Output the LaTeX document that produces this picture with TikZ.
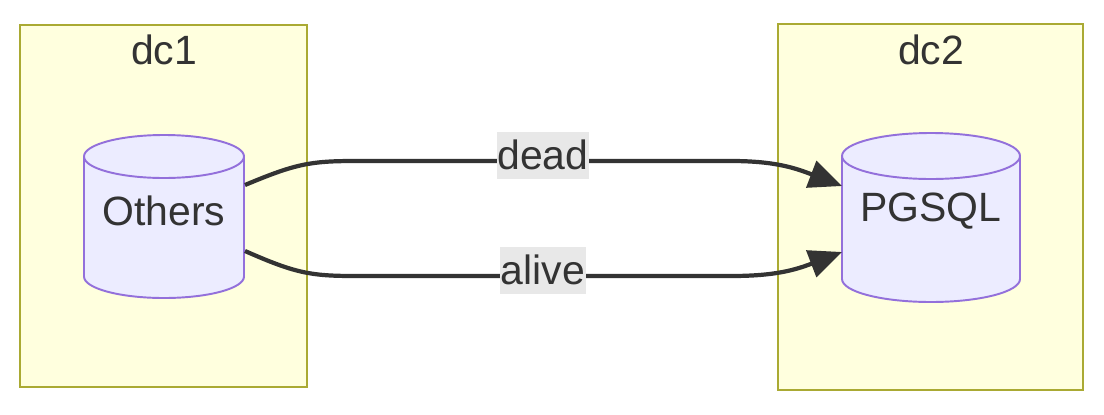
\documentclass[tikz,border=0pt]{standalone}
\usepackage{fontspec}
\setmainfont{Liberation Sans}
\usetikzlibrary{arrows.meta}

\definecolor{clusterfill}{HTML}{FFFFDE}
\definecolor{clusterline}{HTML}{AAAA33}
\definecolor{dbfill}{HTML}{ECECFF}
\definecolor{dbline}{HTML}{9370DB}
\definecolor{ink}{HTML}{333333}
\definecolor{lblfill}{HTML}{E8E8E8}

\begin{document}
\begin{tikzpicture}[x = 0.02cm, y = 0.02cm,
        every node/.style = {text = ink, font = \fontsize{23.3}{27}\selectfont},
        cluster/.style = {fill = clusterfill, draw = clusterline, line width = 1.1pt},
        db/.style = {fill = dbfill, draw = dbline, line width = 1.1pt},
        link/.style = {draw = ink, line width = 2.4pt,
            -{Triangle[length = 0.66cm, width = 0.56cm]}},
        lbl/.style = {fill = lblfill, inner sep = 0.5pt, minimum height = 0.94cm,
            yshift = 0.12cm}
    ]
        \useasboundingbox (0, 0) rectangle (1104, 414);

        % Subgraph boxes.
        \draw[cluster] (20, 27) rectangle (307, 389);
        \draw[cluster] (778, 24) rectangle (1083, 390);
        \node (dc1) at (164, 364) {dc1};
        \node (dc2) at (931, 364) {dc2};

        % First database, Others.
        \path[db] (84, 257.5) -- (84, 137.5)
            arc[start angle = 180, end angle = 360, x radius = 80, y radius = 21.5]
            -- (244, 257.5)
            arc[start angle = 0, end angle = 180, x radius = 80, y radius = 21.5];
        \draw[db, fill = none] (84, 257.5)
            arc[start angle = 180, end angle = 360, x radius = 80, y radius = 21.5];
        \node (others) at (164, 203) {Others};

        % Second database, PGSQL.
        \path[db] (842, 258) -- (842, 135)
            arc[start angle = 180, end angle = 360, x radius = 89, y radius = 23]
            -- (1020, 258)
            arc[start angle = 0, end angle = 180, x radius = 89, y radius = 23];
        \draw[db, fill = none] (842, 258)
            arc[start angle = 180, end angle = 360, x radius = 89, y radius = 23];
        \node (pgsql) at (931, 203) {PGSQL};

        % Ends of the two links.
        \coordinate (others-up) at (245, 229);
        \coordinate (others-down) at (245, 163);
        \coordinate (pgsql-up) at (842, 228);
        \coordinate (pgsql-down) at (842, 162);

        \draw[link] (others-up) .. controls (295, 250) and (310, 253) .. (355, 253)
            -- node[lbl] (dead) {dead} (731, 253)
            .. controls (775, 253) and (795, 246) .. (pgsql-up);
        \draw[link] (others-down) .. controls (295, 141) and (310, 138) .. (355, 138)
            -- node[lbl] (alive) {alive} (731, 138)
            .. controls (775, 138) and (795, 144) .. (pgsql-down);
    \end{tikzpicture}
\end{document}
